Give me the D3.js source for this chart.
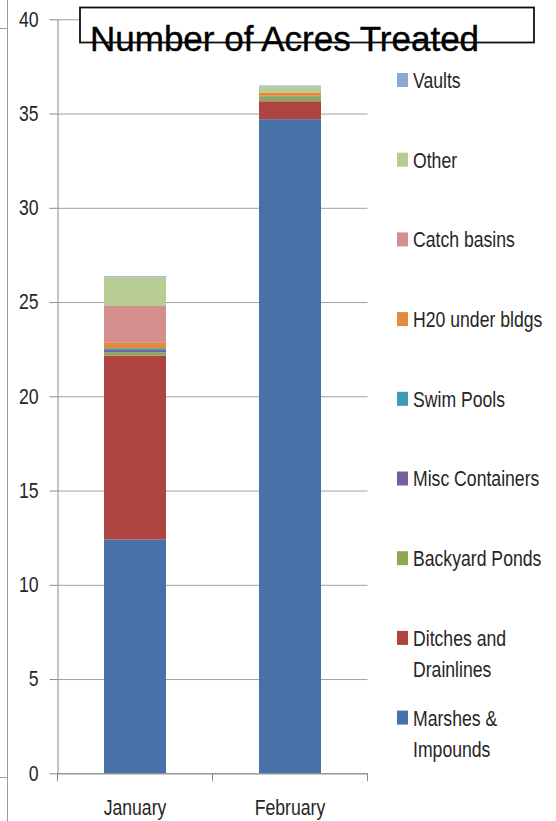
<!DOCTYPE html>
<html><head><meta charset="utf-8">
<script src="https://cdn.jsdelivr.net/npm/d3@7"></script>
<style>
html,body{margin:0;padding:0;background:#fff;}
svg{display:block;}
</style></head>
<body>
<svg id="chart" width="556" height="821"></svg>
<script>
// ---- data ----
const categories = ["January", "February"];
const seriesNames = ["Marshes & Impounds", "Ditches and Drainlines", "Backyard Ponds", "Misc Containers", "Swim Pools", "H20 under bldgs", "Catch basins", "Other", "Vaults"];
const legendLabels = [["Marshes &", "Impounds"], ["Ditches and", "Drainlines"], ["Backyard Ponds"], ["Misc Containers"], ["Swim Pools"], ["H20 under bldgs"], ["Catch basins"], ["Other"], ["Vaults"]];
const marshes = [12.4, 34.7];
const ditches = [9.75, 0.95];
const backyardPonds = [0.18, 0.25];
const miscContainers = [0.12, 0.02];
const swimPools = [0.1, 0.02];
const h2oUnderBldgs = [0.32, 0.18];
const catchBasins = [1.92, 0.0];
const other = [1.53, 0.32];
const vaults = [0.05, 0.05];
const yTicks = [0, 5, 10, 15, 20, 25, 30, 35, 40];
const colors = ["#4771A9", "#AE4441", "#8DA752", "#7A5E9C", "#3F9BB5", "#E48A3F", "#D38E8D", "#B7CD91", "#8CA9D4"];
const title = "Number of Acres Treated";

const seriesValues = [marshes, ditches, backyardPonds, miscContainers, swimPools, h2oUnderBldgs, catchBasins, other, vaults];
const table = categories.map((c, i) => {
  const row = {cat: c};
  seriesNames.forEach((s, k) => row[s] = seriesValues[k][i]);
  return row;
});

const svg = d3.select("#chart");
const font = "'Liberation Sans', Arial, sans-serif";
const squeeze = 0.82; // condensed look

// page decoration at left edge
svg.append("line").attr("x1", 7.5).attr("x2", 7.5).attr("y1", 0).attr("y2", 821).attr("stroke", "#9a9a9a");
svg.append("line").attr("x1", 0).attr("x2", 7.5).attr("y1", 28.5).attr("y2", 28.5).attr("stroke", "#9a9a9a");
svg.append("line").attr("x1", 0).attr("x2", 7.5).attr("y1", 777.5).attr("y2", 777.5).attr("stroke", "#9a9a9a");

const y = d3.scaleLinear().domain([0, 40]).range([773.3, 19.3]);
const x = d3.scaleBand().domain(categories).range([57.5, 367.5]).paddingInner(0.6).paddingOuter(0.3);

// gridlines
const grid = svg.append("g").attr("transform", "translate(57.5,0)")
  .call(d3.axisLeft(y).tickValues(yTicks).tickSize(-(x.range()[1] - x.range()[0])).tickFormat(""));
grid.select(".domain").remove();
grid.selectAll("line").attr("stroke", "#a0a0a0").attr("stroke-width", 1);

// bars
const stack = d3.stack().keys(seriesNames)(table);
svg.append("g").selectAll("g").data(stack).join("g")
  .attr("fill", (d, i) => colors[i])
  .selectAll("rect").data(d => d).join("rect")
  .attr("x", d => x(d.data.cat))
  .attr("width", x.bandwidth())
  .attr("y", d => y(d[1]))
  .attr("height", d => Math.max(0, y(d[0]) - y(d[1])));

function condense(sel) {
  sel.each(function () {
    const t = d3.select(this);
    const tx = +t.attr("x") || 0;
    t.attr("x", tx / squeeze).attr("transform", `scale(${squeeze},1)`);
  });
}

// y axis
const ya = svg.append("g").attr("transform", "translate(57.5,0)")
  .call(d3.axisLeft(y).tickValues(yTicks).tickSize(8).tickPadding(11).tickSizeOuter(0));
ya.select(".domain").attr("stroke", "#8a8a8a");
ya.selectAll("line").attr("stroke", "#8a8a8a");
ya.selectAll("text").attr("font-family", font).attr("font-size", 21.5).attr("fill", "#262626").call(condense);

// x axis
const xa = svg.append("g").attr("transform", `translate(0,${y(0)})`)
  .call(d3.axisBottom(x).tickSize(0).tickPadding(26).tickSizeOuter(0));
xa.select(".domain").attr("stroke", "#8a8a8a");
xa.selectAll("text").attr("font-family", font).attr("font-size", 21.5).attr("fill", "#262626").call(condense);
const bounds = d3.range(categories.length + 1).map(i => x.range()[0] + i * x.step());
xa.selectAll(".bound").data(bounds).join("line").attr("class", "bound")
  .attr("x1", d => d).attr("x2", d => d).attr("y1", 0).attr("y2", 8).attr("stroke", "#8a8a8a");

// title box
svg.append("rect").attr("x", 80).attr("y", 7.5).attr("width", 454).attr("height", 35)
  .attr("fill", "#fff").attr("stroke", "#111").attr("stroke-width", 1.8);
svg.append("text").attr("x", 90).attr("y", 51).text(title)
  .attr("font-family", "'Liberation Sans', Arial, sans-serif").attr("font-size", 35)
  .attr("fill", "#000").attr("stroke", "#000").attr("stroke-width", 0.4);

// legend
const legendOrder = d3.range(seriesNames.length).reverse();
const lg = svg.append("g");
legendOrder.forEach((k, i) => {
  const base = 88 + i * 79.7;
  lg.append("rect").attr("x", 397).attr("y", base - 15).attr("width", 11).attr("height", 14).attr("fill", colors[k]);
  const t = lg.append("text").attr("transform", `scale(${squeeze},1)`)
    .attr("font-family", font).attr("font-size", 21.5).attr("fill", "#262626");
  legendLabels[k].forEach((line, j) => {
    t.append("tspan").attr("x", 413 / squeeze).attr("y", base + j * 31.5).text(line);
  });
});
</script>
</body></html>
